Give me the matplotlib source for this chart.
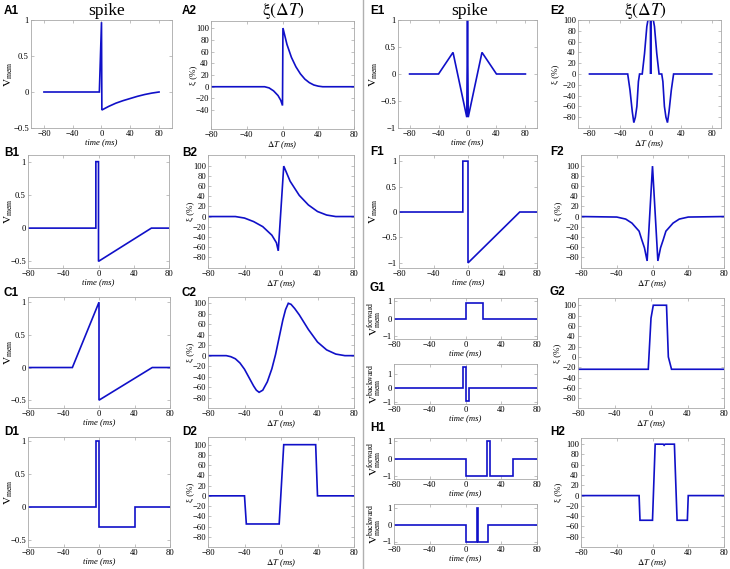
import matplotlib
matplotlib.use("Agg")
import matplotlib.pyplot as plt
from matplotlib.lines import Line2D

plt.rcParams['mathtext.fontset'] = 'stix'
plt.rcParams['font.family'] = ['Liberation Serif', 'DejaVu Serif']
plt.rcParams['axes.unicode_minus'] = True

W, H = 730, 569
LINE = '#1010c8'
SPINE = '#a8a8a8'

# ---------------- data ----------------
a1_t = [-80, -3, 0, 0.5, 10, 20, 30, 40, 50, 60, 70, 80]
a1_v = [0, 0, 0.97, -0.25, -0.2, -0.155, -0.12, -0.09, -0.06, -0.035, -0.015, 0]
a2_t = [-80, -20, -15, -10, -5, -2, 0, 0.5, 5, 10, 15, 20, 25, 30, 35, 40, 45, 80]
a2_v = [0, 0, -2, -7, -15, -23, -32, 100, 72, 50, 34, 22, 13, 7, 3, 1, 0, 0]

b1_t = [-80, -3, -3, 0, 0, 60, 80]
b1_v = [0, 0, 1, 1, -0.5, 0, 0]
b2_t = [-80, -50, -40, -30, -20, -10, -5, -3, 3, 10, 20, 30, 40, 50, 60, 80]
b2_v = [0, 0, -3, -10, -20, -37, -52, -68, 100, 70, 42, 23, 10, 3, 0, 0]

c1_t = [-80, -30, 0, 0, 60, 80]
c1_v = [0, 0, 1, -0.5, 0, 0]
c2_t = [-80, -60, -55, -50, -45, -40, -35, -30, -27, -24, -20, -15, -10, -6, -2,
        2, 5, 8, 11, 15, 20, 30, 40, 50, 60, 70, 80]
c2_v = [0, 0, -2, -6, -14, -26, -42, -58, -66, -70, -66, -50, -25, 2, 35,
        68, 88, 100, 98, 90, 78, 50, 26, 11, 3, 0, 0]

d1_t = [-80, -3, -3, 0, 0, 40, 40, 80]
d1_v = [0, 0, 1, 1, -0.3, -0.3, 0, 0]
d2_t = [-80, -40, -38, -2, 3, 38, 40, 80]
d2_v = [0, 0, -55, -55, 100, 100, 0, 0]

e1_t = [-80, -40, -20, -1, 0, 1, 20, 40, 80]
e1_v = [0, 0, 0.4, -0.8, 1, -0.8, 0.4, 0, 0]
e2_t = [-80, -30, -27, -24, -22, -20, -18, -16, -14.5, -11, -8, -5, -3.5, -0.3, 0,
        0.3, 3.5, 5, 8, 11, 14.5, 16, 18, 20, 22, 24, 27, 30, 80]
e2_v = [0, 0, -30, -70, -90, -80, -60, -14, 0, 0, 38, 88, 100, 100, 0,
        100, 100, 88, 38, 0, 0, -14, -60, -80, -90, -70, -30, 0, 0]

f1_t = [-80, -6, -6, 0, 0, 60, 80]
f1_v = [0, 0, 1, 1, -1, 0, 0]
f2_t = [-80, -40, -30, -23, -15, -12, -9, -6, 0, 6, 9, 12, 15, 23, 30, 40, 80]
f2_v = [0, -1, -5, -13, -29, -46, -62, -88, 100, -88, -62, -46, -29, -13, -5, -1, 0]

g1f_t = [-80, 0, 0, 20, 20, 80]
g1f_v = [0, 0, 0.85, 0.85, 0, 0]
g1b_t = [-80, -2.5, -2.5, 0, 0, 4, 4, 80]
g1b_v = [0, 0, 1.5, 1.5, -0.87, -0.87, 0, 0]
g2_t = [-80, -3, 0, 2.5, 17, 19, 22.5, 80]
g2_v = [-24, -24, 75, 100, 100, 0, -24, -24]

h1f_t = [-80, 0, 0, 24, 24, 27, 27, 53, 53, 80]
h1f_v = [0, 0, -1, -1, 1, 1, -1, -1, 0, 0]
h1b_t = [-80, 0, 0, 13, 13, 14, 14, 25, 25, 80]
h1b_v = [0, 0, -1, -1, 1, 1, -1, -1, 0, 0]
h2_t = [-80, -15, -14, 0, 3, 12, 13, 14, 24.5, 27.5, 39, 40, 80]
h2_v = [0, 0, -48, -48, 100, 100, 98, 100, 100, -48, -48, 0, 0]

time_ticks = [-80, -40, 0, 40, 80]
xi_ticks = [-80, -60, -40, -20, 0, 20, 40, 60, 80, 100]
v_ticks = [-0.5, 0, 0.5, 1]
v_ticks_full = [-1, -0.5, 0, 0.5, 1]
v_ticks_small = [-1, 0, 1]

fig = plt.figure(figsize=(W / 100, H / 100), dpi=100)

TICK_FS = 6.2


def fmt(v):
    if float(v).is_integer():
        s = str(int(v))
    else:
        s = ('%g' % v)
    return s.replace('-', '\u2212')


def make_ax(x0, x1, y0, y1, t, v, xlim, ylim, yticks, xlabel, ylabel,
            ylabel_fs, ylabel_px):
    ax = fig.add_axes([x0 / W, 1 - y1 / H, (x1 - x0) / W, (y1 - y0) / H])
    ax.plot(t, v, color=LINE, lw=1.2, solid_joinstyle='miter')
    ax.set_xlim(*xlim)
    ax.set_ylim(*ylim)
    ax.set_xticks(time_ticks)
    ax.set_xticklabels([fmt(x) for x in time_ticks])
    ax.set_yticks(yticks)
    ax.set_yticklabels([fmt(y) for y in yticks])
    for s in ax.spines.values():
        s.set_color(SPINE)
        s.set_linewidth(0.6)
    ax.tick_params(direction='in', length=2, width=0.5, color=SPINE,
                   labelsize=TICK_FS, pad=1.5, top=True, right=True)
    ax.set_xlabel(xlabel, fontsize=TICK_FS, style='italic', labelpad=0)
    ax.set_ylabel(ylabel, fontsize=ylabel_fs, va='center')
    ax.yaxis.set_label_coords((ylabel_px - x0) / (x1 - x0), 0.5)
    return ax


TL = 'time (ms)'
DL = r'$\Delta T$ (ms)'
VL = r'$\mathrm{V}_{\mathrm{mem}}$'
XL = 'ξ (%)'
VF = r'$\mathrm{V}_{\mathrm{mem}}^{\mathrm{forward}}$'
VB = r'$\mathrm{V}_{\mathrm{mem}}^{\mathrm{backward}}$'

VFS = 8.0
XFS = 6.4
GFS = 8.0

# Left half
make_ax(31, 172, 20, 128, a1_t, a1_v, (-98, 98), (-0.5, 1), v_ticks, TL, VL, VFS, 9)
make_ax(211, 354, 21, 129, a2_t, a2_v, (-80, 80), (-72, 112), xi_ticks[2:], DL, XL, XFS, 193)
make_ax(28, 169, 155, 268, b1_t, b1_v, (-80, 80), (-0.6, 1.1), v_ticks, TL, VL, VFS, 9)
make_ax(208, 354, 155, 268, b2_t, b2_v, (-80, 80), (-102, 122), xi_ticks, DL, XL, XFS, 190)
make_ax(28, 170, 297, 408, c1_t, c1_v, (-80, 80), (-0.62, 1.08), v_ticks, TL, VL, VFS, 9)
make_ax(208, 354, 297, 408, c2_t, c2_v, (-80, 80), (-100, 112), xi_ticks, DL, XL, XFS, 190)
make_ax(28, 170, 437, 547, d1_t, d1_v, (-80, 80), (-0.61, 1.06), v_ticks, TL, VL, VFS, 9)
make_ax(208, 354, 437, 547, d2_t, d2_v, (-80, 80), (-100, 115), xi_ticks, DL, XL, XFS, 190)

# Right half
make_ax(398, 537, 20, 128, e1_t, e1_v, (-96, 96), (-1, 1), v_ticks_full, TL, VL, VFS, 374)
make_ax(578, 721, 20, 128, e2_t, e2_v, (-95, 92), (-100, 100), xi_ticks, DL, XL, XFS, 555)
make_ax(399, 537, 155, 268, f1_t, f1_v, (-80, 80), (-1.1, 1.12), v_ticks_full, TL, VL, VFS, 374)
make_ax(581, 724, 155, 268, f2_t, f2_v, (-80, 80), (-102, 122), xi_ticks, DL, XL, XFS, 558)
make_ax(394, 537, 298, 339, g1f_t, g1f_v, (-80, 80), (-1.15, 1.15), v_ticks_small, TL, VF, GFS, 374)
make_ax(394, 537, 364, 404, g1b_t, g1b_v, (-80, 80), (-1.12, 1.75), v_ticks_small, TL, VB, GFS, 374)
make_ax(578, 724, 298, 408, g2_t, g2_v, (-80, 80), (-99, 114), xi_ticks, DL, XL, XFS, 557)
make_ax(394, 537, 438, 479, h1f_t, h1f_v, (-80, 80), (-1.15, 1.15), v_ticks_small, TL, VF, GFS, 374)
make_ax(394, 537, 504, 544, h1b_t, h1b_v, (-80, 80), (-1.15, 1.25), v_ticks_small, TL, VB, GFS, 374)
make_ax(581, 724, 438, 547, h2_t, h2_v, (-80, 80), (-100, 112), xi_ticks, DL, XL, XFS, 558)

# Column titles
for cx, txt in [(107, 'spike'), (283, r'$\mathrm{\xi}(\Delta T)$'),
                (470, 'spike'), (645, r'$\mathrm{\xi}(\Delta T)$')]:
    fig.text(cx / W, 1 - 11 / H, txt, ha='center', va='center', fontsize=12.6)

# Panel labels
labels = [('A1', 4, 11), ('A2', 182, 11), ('B1', 4, 153), ('B2', 182, 153),
          ('C1', 4, 293), ('C2', 182, 293), ('D1', 4, 432), ('D2', 182, 432),
          ('E1', 370, 11), ('E2', 550, 11), ('F1', 370, 152), ('F2', 550, 152),
          ('G1', 370, 288), ('G2', 550, 292), ('H1', 370, 428), ('H2', 550, 432)]
for lab, x, y in labels:
    fig.text(x / W, 1 - y / H, lab, ha='left', va='center', fontsize=8.5,
             fontweight='bold', family='Liberation Sans')

# Separator
fig.add_artist(Line2D([363 / W, 363 / W], [0, 1], color='#b0b0b0', lw=1.0))

fig.savefig('out.png', dpi=100)
